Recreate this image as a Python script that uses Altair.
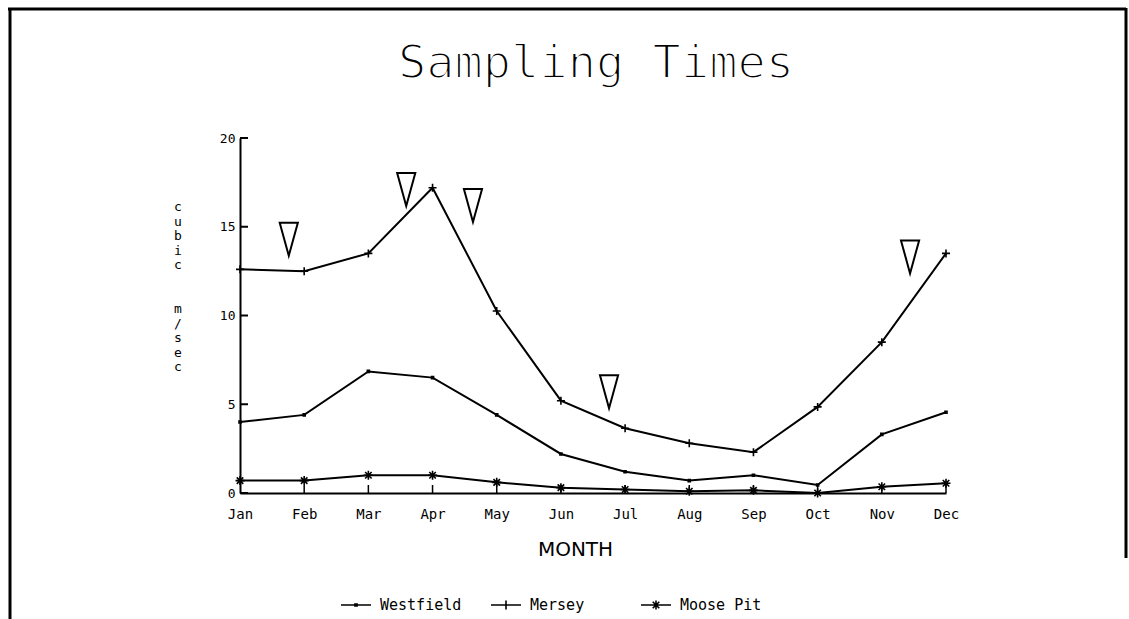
import altair as alt
import pandas as pd

# Monthly flow (cubic m/sec) at three gauging stations
months = ["Jan", "Feb", "Mar", "Apr", "May", "Jun",
          "Jul", "Aug", "Sep", "Oct", "Nov", "Dec"]
westfield = [4.0, 4.4, 6.85, 6.5, 4.4, 2.2, 1.2, 0.7, 1.0, 0.45, 3.3, 4.55]
mersey = [12.6, 12.5, 13.5, 17.2, 10.25, 5.2, 3.65, 2.8, 2.3, 4.85, 8.5, 13.5]
moose_pit = [0.7, 0.7, 1.0, 1.0, 0.6, 0.3, 0.2, 0.1, 0.15, 0.0, 0.35, 0.55]
series_names = ["Westfield", "Mersey", "Moose Pit"]

# Sampling times (fractional month position) and the flow level they are drawn at
sample_month = [0.76, 2.59, 3.63, 5.75, 10.44]
sample_flow = [14.3, 17.1, 16.2, 5.7, 13.3]

y_ticks = [0, 5, 10, 15, 20]
x_ticks = list(range(1, 12))

title_text = "Sampling Times"
y_title_top = ["c", "u", "b", "i", "c"]
y_title_bottom = ["m", "/", "s", "e", "c"]

W, H = 706, 355
MONO = "DejaVu Sans Mono"

rows = []
for name, vals in zip(series_names, [westfield, mersey, moose_pit]):
    for i, v in enumerate(vals):
        rows.append({"idx": i, "month": months[i], "series": name, "flow": v})
flows = pd.DataFrame(rows)
samples = pd.DataFrame({"idx": sample_month, "flow": sample_flow})
one = pd.DataFrame({"k": [0]})

month_expr = "[" + ",".join(f"'{m}'" for m in months) + "][datum.value]"

x_enc = alt.X(
    "idx:Q",
    scale=alt.Scale(domain=[0, 11], nice=False, zero=False),
    axis=alt.Axis(
        values=list(range(12)), labelExpr=month_expr, title="MONTH",
        labelFont=MONO, labelFontSize=14, labelPadding=14, labelFlush=False,
        labelOverlap=False,
        titleFont="DejaVu Sans", titleFontSize=20, titleFontWeight="normal",
        titlePadding=18, titleX=335, titleAnchor="start", titleAlign="center",
    ),
)
y_enc = alt.Y(
    "flow:Q",
    scale=alt.Scale(domain=[0, 20], nice=False),
    axis=alt.Axis(
        values=y_ticks, labelFont=MONO, labelFontSize=13, labelPadding=5,
        labelFlush=False, title=None,
    ),
)

# marker glyphs on the data points
dot_path = "M-0.2,-0.2L0.2,-0.2L0.2,0.2L-0.2,0.2Z"
plus_path = "M-0.8,0L0.8,0M0,-0.8L0,0.8"
star_path = ("M-0.9,0L0.9,0M0,-0.9L0,0.9"
             "M-0.65,-0.65L0.65,0.65M-0.65,0.65L0.65,-0.65")

# legend glyphs: a short line with the marker in the middle
leg_dot = "M-1,0L1,0M-0.07,-0.07L0.07,-0.07L0.07,0.07L-0.07,0.07Z"
leg_plus = "M-1,0L1,0M0,-0.3L0,0.3"
leg_star = ("M-1,0L1,0M0,-0.3L0,0.3"
            "M-0.22,-0.22L0.22,0.22M-0.22,0.22L0.22,-0.22")

tri_path = "M-0.55,-1L0.55,-1L0,1Z"

lines = alt.Chart(flows).mark_line(color="black", strokeWidth=2).encode(
    x=x_enc, y=y_enc, detail="series:N", order="idx:Q"
)

markers = alt.Chart(flows).mark_point(
    filled=False, color="black", strokeWidth=1.6, size=100, opacity=1
).encode(
    x=x_enc, y=y_enc,
    shape=alt.Shape("series:N",
                    scale=alt.Scale(domain=series_names,
                                    range=[dot_path, plus_path, star_path]),
                    legend=None),
)

legend_layer = alt.Chart(flows).mark_point(
    filled=False, color="black", opacity=0
).encode(
    x=x_enc, y=y_enc,
    shape=alt.Shape(
        "series:N",
        scale=alt.Scale(domain=series_names, range=[leg_dot, leg_plus, leg_star]),
        legend=alt.Legend(
            title=None, orient="none", legendX=100, legendY=451,
            direction="horizontal", columns=3, gridAlign="all",
            columnPadding=25, symbolSize=900, symbolStrokeColor="black",
            symbolStrokeWidth=1.6, symbolFillColor="black", symbolOpacity=1,
            labelFont=MONO, labelFontSize=15, labelColor="black",
            labelOffset=8,
        ),
    ),
)

triangles = alt.Chart(samples).mark_point(
    shape=tri_path, size=1089, filled=True, fill="white",
    stroke="black", strokeWidth=2, opacity=1
).encode(x=x_enc, y=y_enc)

y_inner_ticks = alt.Chart(pd.DataFrame({"flow": y_ticks})).mark_rule(
    color="black", strokeWidth=2
).encode(y=alt.Y("flow:Q"), x=alt.value(0), x2=alt.value(8))

x_inner_ticks = alt.Chart(pd.DataFrame({"idx": x_ticks})).mark_rule(
    color="black", strokeWidth=1.5
).encode(x=alt.X("idx:Q"), y=alt.value(H), y2=alt.value(H - 8))

# chart title (thin pen-style strokes) and the stacked y-axis caption
title_mark = alt.Chart(one).mark_text(
    text=title_text, font=MONO, fontSize=47, fontWeight="normal",
    align="center", baseline="alphabetic", color="black",
    fill="black", stroke="white", strokeWidth=2.0
).encode(x=alt.value(356), y=alt.value(-60))

y_cap_top = alt.Chart(one).mark_text(
    text=y_title_top, font=MONO, fontSize=13, lineHeight=14.5,
    align="center", baseline="top", color="black"
).encode(x=alt.value(-62), y=alt.value(63))

y_cap_bottom = alt.Chart(one).mark_text(
    text=y_title_bottom, font=MONO, fontSize=13, lineHeight=14.5,
    align="center", baseline="top", color="black"
).encode(x=alt.value(-62), y=alt.value(165))

# page frame: top, left and right edges
frame_top = alt.Chart(one).mark_rule(color="black", strokeWidth=3).encode(
    x=alt.value(-232), x2=alt.value(886), y=alt.value(-129))
frame_left = alt.Chart(one).mark_rule(color="black", strokeWidth=3).encode(
    x=alt.value(-230), y=alt.value(-130), y2=alt.value(481))
frame_right = alt.Chart(one).mark_rule(color="black", strokeWidth=3).encode(
    x=alt.value(886), y=alt.value(-130), y2=alt.value(420))

chart = alt.layer(
    lines, markers, legend_layer, triangles, y_inner_ticks, x_inner_ticks,
    title_mark, y_cap_top, y_cap_bottom,
    frame_top, frame_left, frame_right,
).resolve_scale(shape="independent").properties(
    width=W, height=H,
    autosize=alt.AutoSizeParams(type="none"),
    padding={"left": 240, "top": 138, "right": 183, "bottom": 126},
    background="white",
).configure_view(stroke=None).configure_axis(
    domainColor="black", domainWidth=2, tickSize=0, grid=False,
    labelColor="black", titleColor="black",
)

chart.save("out.html", embed_options={"renderer": "svg", "actions": False})
